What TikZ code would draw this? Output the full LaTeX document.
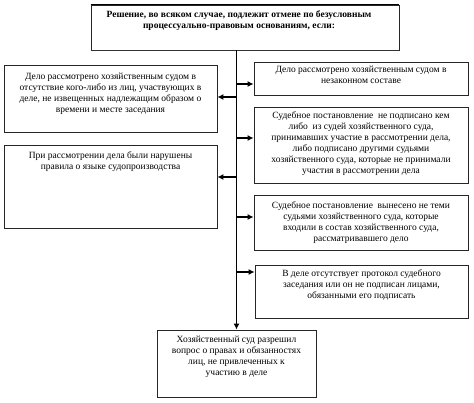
\documentclass[tikz,border=0pt]{standalone}
\usepackage{fontspec}
\setmainfont{Liberation Serif}
\usetikzlibrary{arrows.meta}
\begin{document}
\begin{tikzpicture}[x=1pt,y=-1pt,
  box/.style={draw=black!85, line width=0.8pt, inner sep=0pt},
  txt/.style={font=\fontsize{9.5}{11}\selectfont, align=center, inner sep=0pt, anchor=north},
  arr/.style={line width=1.4pt, -{Latex[length=6pt,width=6pt]}}]
\useasboundingbox (0,0) rectangle (474,403);
% top box
\node[box, minimum width=308pt, minimum height=45pt] (T) at (245,27.5) {};
\draw[line width=1.8pt] (T.north west) -- (T.north east);
\draw[line width=1.6pt, black!80] (T.south west) -- (T.south east);
\node[txt, font=\fontsize{9.5}{11}\selectfont\bfseries] (Tt) at (239,10.5) {Решение, во всяком случае, подлежит отмене по безусловным\\процессуально-правовым основаниям, если:};
% left boxes
\node[box, minimum width=213pt, minimum height=67pt] (L1) at (110.5,98.5) {};
\node[txt] (L1t) at (110.5,72.4) {Дело рассмотрено хозяйственным судом в\\отсутствие кого-либо из лиц, участвующих в\\деле, не извещенных надлежащим образом о\\времени и месте заседания};
\node[box, minimum width=213pt, minimum height=83pt] (L2) at (110.5,186.5) {};
\node[txt] (L2t) at (110.5,151.7) {При рассмотрении дела были нарушены\\правила о языке судопроизводства};
% right boxes
\node[box, minimum width=214pt, minimum height=33pt] (R1) at (361,78.5) {};
\node[txt] (R1t) at (361,65.7) {Дело рассмотрено хозяйственным судом в\\незаконном составе};
\node[box, minimum width=214pt, minimum height=76pt] (R2) at (361,145) {};
\node[txt] (R2t) at (361,111.4) {Судебное постановление \ не подписано кем\\либо \ из судей хозяйственного суда,\\принимавших участие в рассмотрении дела,\\либо подписано другими судьями\\хозяйственного суда, которые не принимали\\участия в рассмотрении дела};
\node[box, minimum width=214pt, minimum height=55pt] (R3) at (361,222.5) {};
\node[txt] (R3t) at (361,201.4) {Судебное постановление \ вынесено не теми\\судьями хозяйственного суда, которые\\входили в состав хозяйственного суда,\\рассматривавшего дело};
\node[box, minimum width=213pt, minimum height=53pt] (R4) at (361.5,291.5) {};
\node[txt] (R4t) at (361.5,269.5) {В деле отсутствует протокол судебного\\заседания или он не подписан лицами,\\обязанными его подписать};
% bottom box
\node[box, minimum width=159pt, minimum height=67pt] (B) at (236.5,363.5) {};
\node[txt] (Bt) at (236.5,335.7) {Хозяйственный суд разрешил\\вопрос о правах и обязанностях\\лиц, не привлеченных к\\участию в деле};
% trunk
\coordinate (t0) at (B.north |- T.south);
\draw[arr] (t0) -- (B.north);
\coordinate (r1) at (t0 |- 0,84);
\coordinate (l1) at (t0 |- 0,97);
\coordinate (r2) at (t0 |- 0,138);
\coordinate (l2) at (t0 |- 0,177);
\coordinate (r3) at (t0 |- 0,217);
\coordinate (r4) at (t0 |- 0,272);
\draw[arr] (r1) -- (r1 -| R1.west);
\draw[arr] (l1) -- (l1 -| L1.east);
\draw[arr] (r2) -- (r2 -| R2.west);
\draw[arr] (l2) -- (l2 -| L2.east);
\draw[arr] (r3) -- (r3 -| R3.west);
\draw[arr] (r4) -- (r4 -| R4.west);
\end{tikzpicture}
\end{document}
